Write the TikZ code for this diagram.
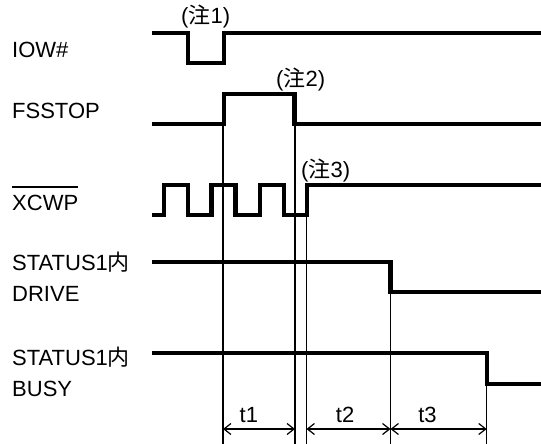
\documentclass[tikz,border=0pt]{standalone}
\usepackage{fontspec}
\setmainfont{Liberation Sans}
\newfontfamily\cjk{Noto Sans CJK JP}
\usepackage{tikz}
\usetikzlibrary{arrows.meta}
\newcommand{\jp}[1]{{\cjk #1}}
% Barra de negación sobre el nombre de la señal
\newcommand{\sigbar}[1]{\setbox0\hbox{#1}\rlap{\rule[22.2pt]{\wd0}{1.6pt}}\box0}

\begin{document}
\begin{tikzpicture}[
        x=1pt, y=-1pt,
        font=\fontsize{22}{31}\selectfont,
        % Estilos de las etiquetas
        signame/.style={anchor=base west, inner sep=0pt, align=left},
        note/.style={anchor=base west, inner sep=0pt},
        % Estilos de las líneas
        wave/.style={line width=4.2pt, line join=miter},
        marker/.style={line width=1.2pt},
        dimarrow/.style={line width=1.2pt,
            {Straight Barb[length=7pt,width=11pt]}-{Straight Barb[length=7pt,width=11pt]}}
    ]
    \useasboundingbox (0,0) rectangle (541,444);

    % -- Nombres de las señales --
    \node[signame] (iow) at (12,57.7) {IOW\#};
    \node[signame] (fsstop) at (12,118) {FSSTOP};
    \node[signame] (xcwp) at (12,210) {\sigbar{XCWP}};
    \node[signame] (drive) at (12,301.7) {STATUS1\jp{内}\\DRIVE};
    \node[signame] (busy) at (12,396.7) {STATUS1\jp{内}\\BUSY};

    % -- Formas de onda --
    \draw[wave] (152,33) -- (188,33) -- (188,63) -- (224,63) -- (224,33) -- (541,33);
    \draw[wave] (152,124) -- (224,124) -- (224,94) -- (294.5,94) -- (294.5,124) -- (541,124);
    \draw[wave] (152,215) foreach \r/\f in {164/188, 211.5/235.5, 260/284} {
            -- (\r,215) -- (\r,185) -- (\f,185) -- (\f,215) }
        -- (307,215) -- (307,185) -- (541,185);
    \draw[wave] (152,261.7) -- (390.5,261.7) -- (390.5,292) -- (541,292);
    \draw[wave] (152,353.3) -- (486.7,353.3) -- (486.7,383.7) -- (541,383.7);

    % -- Notas --
    \node[note] (n1) at (181,24) {(\jp{注}1)};
    \node[note] (n2) at (276,86) {(\jp{注}2)};
    \node[note] (n3) at (301,177) {(\jp{注}3)};

    % -- Líneas de referencia --
    \coordinate (bottom) at (0,444);
    \coordinate (dim) at (0,429);
    \coordinate (m1) at (223,124);
    \coordinate (m2) at (295,124);
    \coordinate (m3) at (306.5,215);
    \coordinate (m4) at (390.5,292);
    \coordinate (m5) at (486.7,383.7);
    \foreach \m in {m1,m2,m3,m4,m5}
        \draw[marker] (\m) -- (\m |- bottom);

    % -- Cotas de tiempo --
    \draw[dimarrow] (m1 |- dim) -- node[pos=0.36, above=6pt, inner sep=0pt] (t1) {t1} (m2 |- dim);
    \draw[dimarrow] (m3 |- dim) -- node[pos=0.46, above=6pt, inner sep=0pt] (t2) {t2} (m4 |- dim);
    \draw[dimarrow] (m4 |- dim) -- node[pos=0.385, above=6pt, inner sep=0pt] (t3) {t3} (m5 |- dim);

\end{tikzpicture}
\end{document}
